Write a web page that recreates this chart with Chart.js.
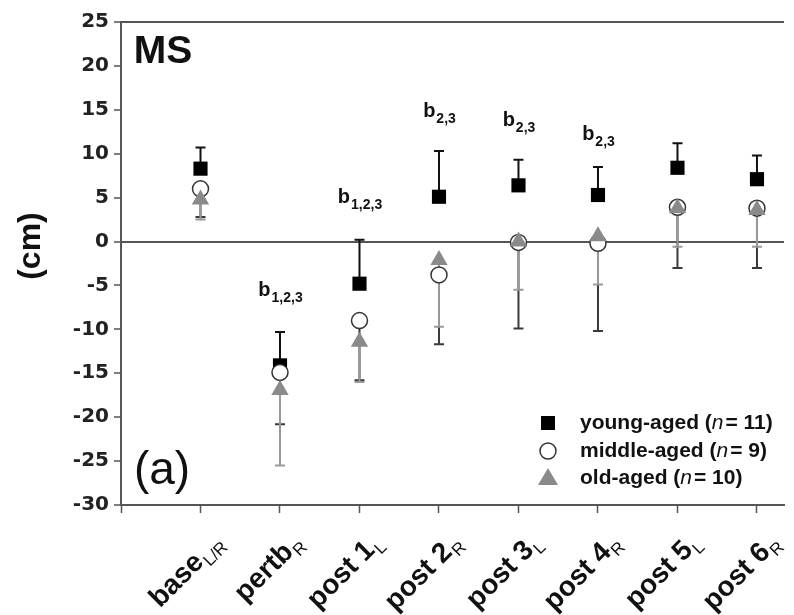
<!DOCTYPE html>
<html>
<head>
<meta charset="utf-8">
<script src="https://cdn.jsdelivr.net/npm/chart.js@4.4.1/dist/chart.umd.min.js"></script>
<style>
    body { margin: 0; background: #fff; }
    #wrap { width: 794px; height: 615px; }
</style>
</head>
<body>
<div id="wrap"><canvas id="myChart"></canvas></div>
<script>
// sessions along the x axis (main text + subscript)
const categories = ['base', 'pertb', 'post 1', 'post 2', 'post 3', 'post 4', 'post 5', 'post 6'];
const subscripts = ['L/R', 'R', 'L', 'R', 'L', 'R', 'L', 'R'];

// means (cm) and end of the error bar for each group
const young       = [8.3, -14.1, -4.8, 5.1, 6.4, 5.3, 8.4, 7.1];
const youngUpper  = [10.7, -10.3, 0.2, 10.3, 9.3, 8.5, 11.2, 9.8];
const middle      = [6.0, -14.9, -9.0, -3.8, -0.1, -0.2, 3.9, 3.8];
const middleLower = [2.8, -20.8, -15.8, -11.7, -9.9, -10.2, -3.0, -3.0];
const old         = [4.8, -16.9, -11.4, -2.1, 0.0, 0.6, 3.8, 3.6];
const oldLower    = [2.5, -25.5, -16.0, -9.7, -5.5, -4.9, -0.6, -0.6];

// significance marks above the sessions
const sigText = ['', '1,2,3', '1,2,3', '2,3', '2,3', '2,3', '', ''];
const sigY    = [null, -5.5, 5.1, 14.9, 13.8, 12.2, null, null];

const yTicks = [-30, -25, -20, -15, -10, -5, 0, 5, 10, 15, 20, 25];

const legendItems = [
    { pre: 'young-aged (', n: 'n', post: '= 11)' },
    { pre: 'middle-aged (', n: 'n', post: '= 9)' },
    { pre: 'old-aged (', n: 'n', post: '= 10)' }
];

const toPoints = (arr) => arr.map((v, i) => ({ x: i + 1, y: v }));

const errorBars = {
    id: 'errorBars',
    beforeDatasetsDraw(chart) {
        const ctx = chart.ctx;
        const xs = chart.scales.x, ys = chart.scales.y;
        const sets = [
            { mean: young, end: youngUpper, color: '#111' },
            { mean: middle, end: middleLower, color: '#3a3a3a' },
            { mean: old, end: oldLower, color: '#9a9a9a' }
        ];
        ctx.save();
        ctx.lineWidth = 2;
        sets.forEach((s) => {
            ctx.strokeStyle = s.color;
            s.mean.forEach((m, i) => {
                const x = xs.getPixelForValue(i + 1);
                const y0 = ys.getPixelForValue(m);
                const y1 = ys.getPixelForValue(s.end[i]);
                ctx.beginPath();
                ctx.moveTo(x, y0);
                ctx.lineTo(x, y1);
                ctx.moveTo(x - 5, y1);
                ctx.lineTo(x + 5, y1);
                ctx.stroke();
            });
        });
        ctx.restore();
    }
};

const extras = {
    id: 'extras',
    afterDraw(chart) {
        const ctx = chart.ctx;
        const area = chart.chartArea;
        const xs = chart.scales.x, ys = chart.scales.y;
        ctx.save();

        // top frame line
        ctx.strokeStyle = '#555';
        ctx.lineWidth = 2;
        ctx.beginPath();
        ctx.moveTo(area.left, area.top);
        ctx.lineTo(area.right, area.top);
        ctx.stroke();

        // panel texts
        ctx.fillStyle = '#111';
        ctx.textAlign = 'center';
        ctx.textBaseline = 'middle';
        ctx.font = 'bold 39px "Liberation Sans", Arial, sans-serif';
        ctx.fillText('MS', area.left + 42, area.top + 30);
        ctx.font = '46px "Liberation Sans", Arial, sans-serif';
        ctx.fillText('(a)', area.left + 41, ys.getPixelForValue(-26.2));

        // y title
        ctx.save();
        ctx.translate(31, 246);
        ctx.rotate(-Math.PI / 2);
        ctx.font = 'bold 32px "Liberation Sans", Arial, sans-serif';
        ctx.fillText('(cm)', 0, 0);
        ctx.restore();

        // significance labels
        sigText.forEach((t, i) => {
            if (!t) return;
            const x = xs.getPixelForValue(i + 1);
            const y = ys.getPixelForValue(sigY[i]);
            ctx.font = 'bold 20px "Liberation Sans", Arial, sans-serif';
            const wb = ctx.measureText('b').width;
            ctx.font = 'bold 14px "Liberation Sans", Arial, sans-serif';
            const ws = ctx.measureText(t).width;
            const x0 = x - (wb + ws) / 2;
            ctx.textAlign = 'left';
            ctx.textBaseline = 'alphabetic';
            ctx.font = 'bold 20px "Liberation Sans", Arial, sans-serif';
            ctx.fillText('b', x0, y + 6);
            ctx.font = 'bold 14px "Liberation Sans", Arial, sans-serif';
            ctx.fillText(t, x0 + wb + 1, y + 12);
        });

        // rotated x labels with subscripts
        categories.forEach((c, i) => {
            const x = xs.getPixelForValue(i + 1);
            ctx.save();
            ctx.translate(x + 24, 544);
            ctx.rotate(-Math.PI / 4);
            ctx.textAlign = 'left';
            ctx.textBaseline = 'alphabetic';
            ctx.font = '17px "Liberation Sans", Arial, sans-serif';
            const ws = ctx.measureText(subscripts[i]).width;
            ctx.font = 'bold 28px "Liberation Sans", Arial, sans-serif';
            const wm = ctx.measureText(c).width;
            ctx.fillText(c, -ws - wm - 1, 0);
            ctx.font = '17px "Liberation Sans", Arial, sans-serif';
            ctx.fillText(subscripts[i], -ws, 6);
            ctx.restore();
        });

        // legend
        const lx = 548, ly = [423, 451, 478];
        ly.forEach((y, k) => {
            ctx.beginPath();
            if (k === 0) {
                ctx.fillStyle = '#000';
                ctx.fillRect(lx - 7, y - 7, 14, 14);
            } else if (k === 1) {
                ctx.fillStyle = '#fff';
                ctx.strokeStyle = '#333';
                ctx.lineWidth = 1.5;
                ctx.arc(lx, y, 8, 0, Math.PI * 2);
                ctx.fill();
                ctx.stroke();
            } else {
                ctx.fillStyle = '#8a8a8a';
                ctx.moveTo(lx, y - 10);
                ctx.lineTo(lx + 10, y + 7);
                ctx.lineTo(lx - 10, y + 7);
                ctx.closePath();
                ctx.fill();
            }
            const it = legendItems[k];
            let tx = 580;
            ctx.fillStyle = '#111';
            ctx.textAlign = 'left';
            ctx.textBaseline = 'middle';
            ctx.font = 'bold 21px "Liberation Sans", Arial, sans-serif';
            ctx.fillText(it.pre, tx, y);
            tx += ctx.measureText(it.pre).width;
            ctx.font = 'italic 21px "Liberation Sans", Arial, sans-serif';
            ctx.fillText(it.n, tx, y);
            tx += ctx.measureText(it.n).width + 2;
            ctx.font = 'bold 21px "Liberation Sans", Arial, sans-serif';
            ctx.fillText(it.post, tx, y);
        });

        ctx.restore();
    }
};

const ctx = document.getElementById('myChart');

new Chart(ctx, {
    type: 'scatter',
    data: {
        datasets: [{
            label: 'young-aged',
            data: toPoints(young),
            order: 2,
            pointStyle: 'rect',
            pointRadius: 10,
            backgroundColor: '#000',
            borderColor: '#000',
            borderWidth: 0
        }, {
            label: 'middle-aged',
            data: toPoints(middle),
            order: 1,
            pointStyle: 'circle',
            pointRadius: 8,
            backgroundColor: '#fff',
            borderColor: '#333',
            borderWidth: 1.5
        }, {
            label: 'old-aged',
            data: toPoints(old),
            order: 0,
            pointStyle: 'triangle',
            pointRadius: 10,
            backgroundColor: '#8a8a8a',
            borderColor: '#8a8a8a',
            borderWidth: 0
        }]
    },
    options: {
        responsive: true,
        maintainAspectRatio: false,
        animation: false,
        layout: { padding: { top: 22, right: 0, left: 0, bottom: 0 } },
        plugins: {
            legend: { display: false },
            tooltip: { enabled: false }
        },
        scales: {
            x: {
                type: 'linear',
                min: 0,
                max: 8.34,
                afterFit: (scale) => { scale.height = 110; },
                afterBuildTicks: (scale) => {
                    scale.ticks = [0, 1, 2, 3, 4, 5, 6, 7, 8].map((v) => ({ value: v }));
                },
                ticks: { display: false },
                grid: {
                    drawOnChartArea: false,
                    drawTicks: true,
                    tickLength: 8,
                    tickColor: '#555',
                    tickWidth: 1.5
                },
                border: { display: true, color: '#555', width: 2 }
            },
            y: {
                min: -30,
                max: 25,
                afterFit: (scale) => { scale.width = 121; },
                afterBuildTicks: (scale) => {
                    scale.ticks = yTicks.map((v) => ({ value: v }));
                },
                ticks: {
                    color: '#222',
                    padding: 5,
                    font: { family: '"DejaVu Sans"', size: 20, weight: 'bold' }
                },
                grid: {
                    drawOnChartArea: true,
                    drawTicks: true,
                    tickLength: 7,
                    tickColor: '#555',
                    tickWidth: 1.5,
                    lineWidth: 2,
                    color: (c) => (c.tick && c.tick.value === 0 ? '#555' : 'rgba(0,0,0,0)')
                },
                border: { display: true, color: '#555', width: 2 }
            }
        }
    },
    plugins: [errorBars, extras]
});
</script>
</body>
</html>
